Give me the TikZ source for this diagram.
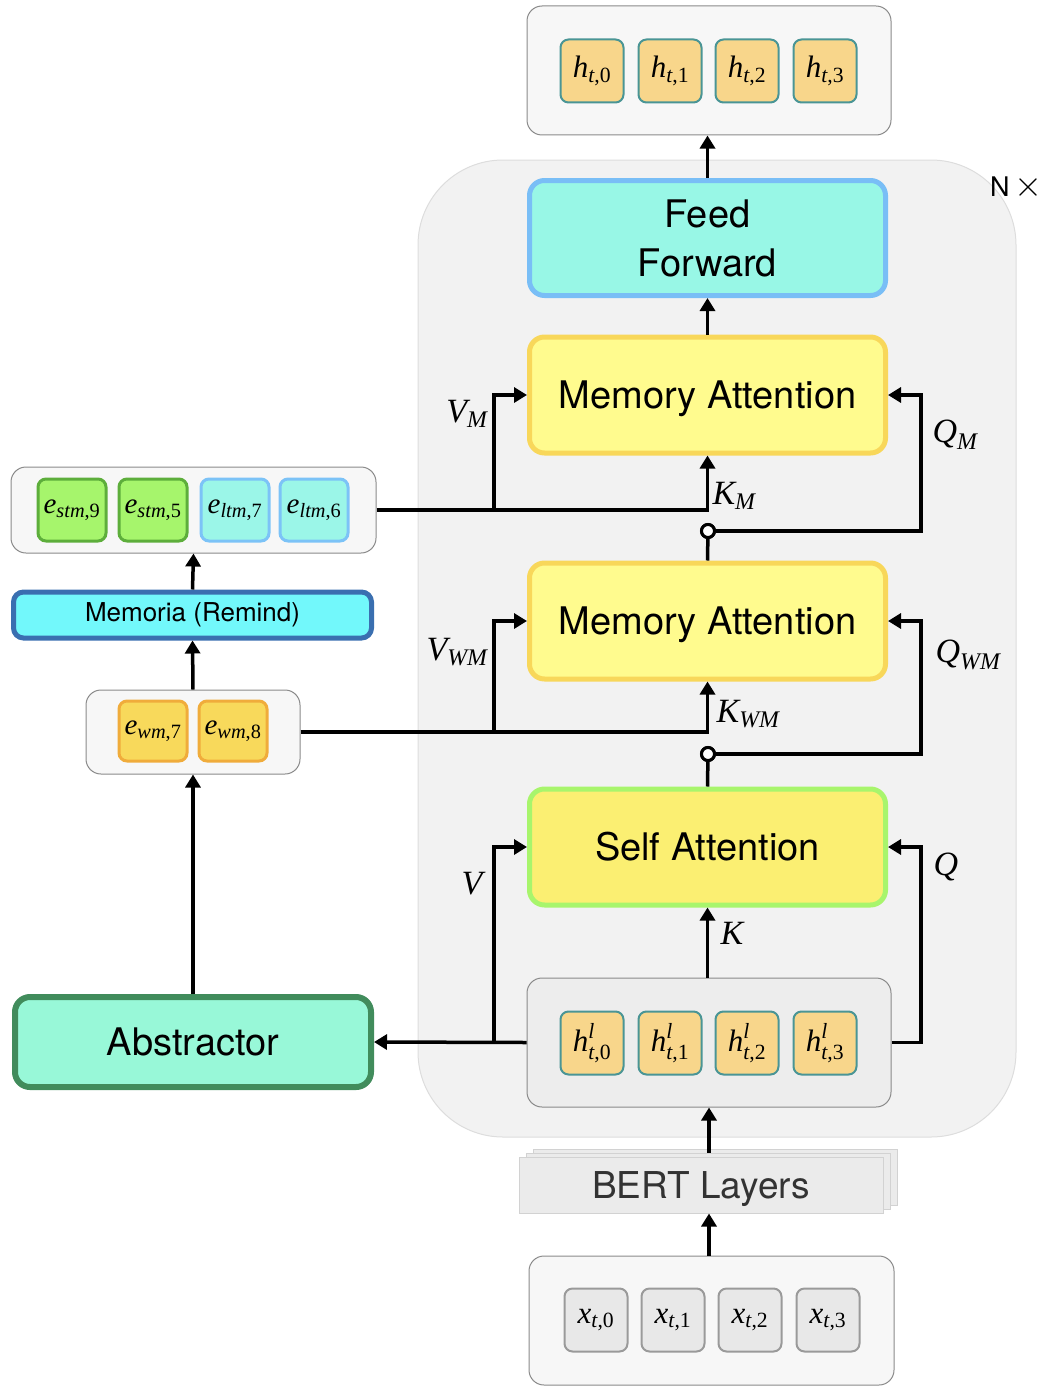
\documentclass[tikz,border=0pt]{standalone}
\usepackage{fix-cm}
\usepackage{amsmath}
\usepackage{fontspec}
\setmainfont{TeX Gyre Heros}
\newfontfamily\tms{Liberation Serif}
\newcommand\ti[1]{\text{\tms\itshape #1}}
\newcommand\tu[1]{\text{\tms #1}}
\usetikzlibrary{arrows.meta,calc}
\definecolor{hfill}{HTML}{F8D68B}
\definecolor{hdraw}{HTML}{4A9595}
\definecolor{xfill}{HTML}{E8E8E8}
\definecolor{xdraw}{HTML}{9A9A9A}
\definecolor{stmfill}{HTML}{A6F56C}
\definecolor{stmdraw}{HTML}{5DAE3B}
\definecolor{ltmfill}{HTML}{9BF6E8}
\definecolor{ltmdraw}{HTML}{7CC3F7}
\definecolor{wmfill}{HTML}{F8D95B}
\definecolor{wmdraw}{HTML}{F0AC3B}
\definecolor{remfill}{HTML}{72F8FB}
\definecolor{remdraw}{HTML}{3A6FB0}
\definecolor{absfill}{HTML}{98F8D8}
\definecolor{absdraw}{HTML}{418C5C}
\definecolor{fffill}{HTML}{98F7E6}
\definecolor{ffdraw}{HTML}{79BEF6}
\definecolor{mafill}{HTML}{FFFB8E}
\definecolor{madraw}{HTML}{F8D75A}
\definecolor{safill}{HTML}{FBEF72}
\definecolor{sadraw}{HTML}{A8F56C}
\definecolor{contfill}{HTML}{F2F2F2}
\definecolor{contdraw}{HTML}{DDDDDD}
\definecolor{grpdraw}{HTML}{8A8A8A}
\definecolor{bertfill}{HTML}{EBEBEB}
\definecolor{bertdraw}{HTML}{D2D2D2}
\tikzset{
  cell/.style={rectangle, rounded corners=8pt, line width=2pt, minimum width=63pt, minimum height=63pt, inner sep=0pt, font=\fontsize{31}{33}\selectfont},
  hcell/.style={cell, draw=hdraw, fill=hfill},
  xcell/.style={cell, draw=xdraw, fill=xfill},
  ecell/.style={cell, minimum width=68pt, minimum height=62pt, line width=3pt, font=\fontsize{29}{31}\selectfont},
  grp/.style={rectangle, rounded corners=15pt, draw=grpdraw, line width=1pt, inner sep=0pt},
  bigbox/.style={rectangle, rounded corners=15pt, line width=5pt, inner sep=0pt, minimum width=356pt, minimum height=116pt, font=\fontsize{38}{49}\selectfont, align=center},
  captext/.style={text height=27pt, text depth=0pt},
  arr/.style={line width=3.5pt, -{Triangle[length=13pt,width=15pt]}},
  ln/.style={line width=3.5pt},
  lab/.style={font=\fontsize{34}{36}\selectfont, inner sep=0pt},
  junc/.style={circle, draw=black, fill=white, line width=3pt, minimum size=13pt, inner sep=0pt},
  bert/.style={rectangle, draw=bertdraw, fill=bertfill, line width=1pt, minimum width=364pt, minimum height=56pt, inner sep=0pt}
}
\begin{document}
\begin{tikzpicture}[x=1pt,y=-1pt]
\useasboundingbox (0,0) rectangle (1047,1386);
% container
\fill[contfill, draw=contdraw, line width=1pt, rounded corners=85pt] (418,160) rectangle (1016,1137);
\node[font=\fontsize{27}{28}\selectfont, inner sep=0pt] (nx) at (1016,187) {N\,{\fontsize{36}{36}\selectfont$\times$}};

% top output
\node[grp, fill=white!97!black, minimum width=364pt, minimum height=129pt] (outbox) at (709,70.5) {};
\node[hcell] (h0) at (592,71) {$\ti{h}_{\ti{t}\tu{,0}}$};
\node[hcell] (h1) at (670,71) {$\ti{h}_{\ti{t}\tu{,1}}$};
\node[hcell] (h2) at (747,71) {$\ti{h}_{\ti{t}\tu{,2}}$};
\node[hcell] (h3) at (825,71) {$\ti{h}_{\ti{t}\tu{,3}}$};

% main blocks
\node[bigbox, draw=ffdraw, fill=fffill, minimum height=115pt] (ff) at (707.5,238) {Feed\\Forward};
\node[bigbox, captext, draw=madraw, fill=mafill] (ma1) at (707.5,395) {Memory Attention};
\node[bigbox, captext, draw=madraw, fill=mafill] (ma2) at (707.5,621) {Memory Attention};
\node[bigbox, captext, draw=sadraw, fill=safill] (sa) at (707.5,847) {Self Attention};

% h^l group
\node[grp, fill=black!7, minimum width=364pt, minimum height=129pt] (hlbox) at (709,1042.5) {};
\node[hcell] (hl0) at (592,1043) {$\ti{h}^{\ti{l}}_{\ti{t}\tu{,0}}$};
\node[hcell] (hl1) at (670,1043) {$\ti{h}^{\ti{l}}_{\ti{t}\tu{,1}}$};
\node[hcell] (hl2) at (747,1043) {$\ti{h}^{\ti{l}}_{\ti{t}\tu{,2}}$};
\node[hcell] (hl3) at (825,1043) {$\ti{h}^{\ti{l}}_{\ti{t}\tu{,3}}$};

% BERT layers
\node[bert] (bert3) at (715,1177) {};
\node[bert] (bert2) at (708,1181) {};
\node[bert, font=\fontsize{37}{40}\selectfont, text=black!80, text height=26.5pt, text depth=0pt] (bert) at (701,1185) {BERT Layers};

% input
\node[grp, fill=white!97!black, minimum width=365pt, minimum height=129pt] (xbox) at (711.5,1320.5) {};
\node[xcell] (x0) at (596,1320) {$\ti{x}_{\ti{t}\tu{,0}}$};
\node[xcell] (x1) at (673,1320) {$\ti{x}_{\ti{t}\tu{,1}}$};
\node[xcell] (x2) at (750,1320) {$\ti{x}_{\ti{t}\tu{,2}}$};
\node[xcell] (x3) at (828,1320) {$\ti{x}_{\ti{t}\tu{,3}}$};

% left memory
\node[grp, fill=white!97!black, minimum width=365pt, minimum height=86pt] (ebox) at (193.5,510) {};
\node[ecell, draw=stmdraw, fill=stmfill] (e0) at (72,510) {$\ti{e}_{\ti{stm}\tu{,9}}$};
\node[ecell, draw=stmdraw, fill=stmfill] (e1) at (153,510) {$\ti{e}_{\ti{stm}\tu{,5}}$};
\node[ecell, draw=ltmdraw, fill=ltmfill] (e2) at (235,510) {$\ti{e}_{\ti{ltm}\tu{,7}}$};
\node[ecell, draw=ltmdraw, fill=ltmfill] (e3) at (314,510) {$\ti{e}_{\ti{ltm}\tu{,6}}$};

\node[rectangle, rounded corners=10pt, draw=remdraw, fill=remfill, line width=5pt, minimum width=358pt, minimum height=46pt, inner sep=0pt, font=\fontsize{26}{28}\selectfont] (rem) at (192.5,615) {Memoria (Remind)};

\node[grp, fill=white!97!black, minimum width=214pt, minimum height=84pt] (wmbox) at (193,732) {};
\node[ecell, draw=wmdraw, fill=wmfill, minimum height=60pt] (w0) at (153,731) {$\ti{e}_{\ti{wm}\tu{,7}}$};
\node[ecell, draw=wmdraw, fill=wmfill, minimum height=60pt] (w1) at (233,731) {$\ti{e}_{\ti{wm}\tu{,8}}$};

\node[bigbox, draw=absdraw, fill=absfill, line width=6pt, minimum height=90pt] (abs) at (193,1042) {Abstractor};

% helper columns
\coordinate (vx) at (494,0);
\coordinate (qx) at (921,0);
\coordinate (mx) at (709,0);

% junctions
\node[junc] (c1) at (708,531) {};
\node[junc] (c2) at (708,754) {};

% vertical main flow
\draw[arr] (xbox.north -| mx) -- (bert.south -| mx);
\draw[arr] (bert2.north -| mx) -- (hlbox.south);
\draw[arr] (hlbox.north -| sa.south) -- (sa.south);
\draw[ln] (sa.north) -- (c2);
\draw[ln] (ma2.north) -- (c1);
\draw[arr] (ma1.north) -- (ff.south);
\draw[arr] (ff.north) -- (outbox.south -| ff.north);

% self attention inputs
\draw[arr] (hlbox.west) -- (abs.east);
\draw[arr] (hlbox.west -| vx) |- (sa.west);
\draw[arr] (hlbox.east) -- (hlbox.east -| qx) |- (sa.east);

% memory attention 2
\draw[arr] (wmbox.east) -| (ma2.south);
\draw[arr] (wmbox.east -| vx) |- (ma2.west);
\draw[arr] (c2) -- (c2 -| qx) |- (ma2.east);

% memory attention 1
\draw[arr] (ebox.east) -| (ma1.south);
\draw[arr] (ebox.east -| vx) |- (ma1.west);
\draw[arr] (c1) -- (c1 -| qx) |- (ma1.east);

% redraw junctions on top
\node[junc] at (c1) {};
\node[junc] at (c2) {};

% left column
\draw[arr] (abs.north) -- (wmbox.south);
\draw[arr] (wmbox.north) -- (rem.south);
\draw[arr] (rem.north) -- (ebox.south);

% labels
\node[lab] (lvm) at (467,414) {$\ti{V}_{\ti{M}}$};
\node[lab] (lkm) at (734,496) {$\ti{K}_{\ti{M}}$};
\node[lab] (lqm) at (955,435) {$\ti{Q}_{\ti{M}}$};
\node[lab] (lvwm) at (457,652) {$\ti{V}_{\ti{WM}}$};
\node[lab] (lkwm) at (748,714) {$\ti{K}_{\ti{WM}}$};
\node[lab] (lqwm) at (968,655) {$\ti{Q}_{\ti{WM}}$};
\node[lab] (lv) at (472,884) {$\ti{V}$};
\node[lab] (lk) at (732,933) {$\ti{K}$};
\node[lab] (lq) at (946,867) {$\ti{Q}$};
\end{tikzpicture}
\end{document}
